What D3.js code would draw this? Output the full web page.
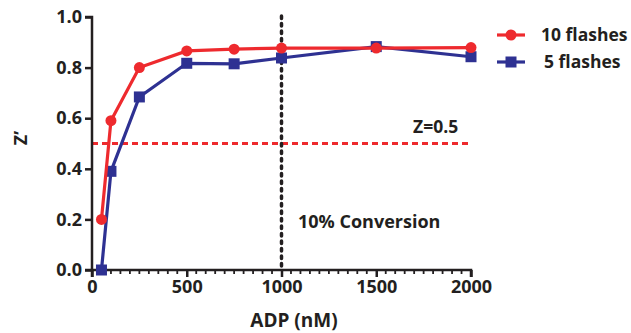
<!DOCTYPE html>
<html>
<head>
<meta charset="utf-8">
<script src="https://cdn.jsdelivr.net/npm/d3@7"></script>
<style>
  body { margin: 0; background: #fff; }
  text { font-family: "Open Sans", sans-serif; font-weight: 700; fill: #231f20; }
</style>
</head>
<body>
<svg id="chart"></svg>
<script>
// data
var adp = [50, 100, 250, 500, 750, 1000, 1500, 2000];
var flashes10 = [0.20, 0.59, 0.80, 0.866, 0.873, 0.877, 0.877, 0.879];
var flashes5 = [0.0, 0.39, 0.684, 0.817, 0.815, 0.838, 0.883, 0.843];
var xTicks = [0, 500, 1000, 1500, 2000];
var yTicks = [0, 0.2, 0.4, 0.6, 0.8, 1.0];
var seriesNames = ["10 flashes", "5 flashes"];

var red = "#ee2a2e";
var blue = "#2e3192";

var svgWidth = 631;
var svgHeight = 333;

var svg = d3.select("#chart")
    .attr("width", svgWidth)
    .attr("height", svgHeight);

var xScale = d3.scaleLinear().domain([0, 2000]).range([92, 471]);
var yScale = d3.scaleLinear().domain([0, 1]).range([270, 17]);

// reference lines
svg.append("line")
    .attr("x1", xScale(0)).attr("x2", xScale(2000))
    .attr("y1", yScale(0.5)).attr("y2", yScale(0.5))
    .style("stroke", red).style("stroke-width", 3)
    .style("stroke-dasharray", "6,4");

svg.append("line")
    .attr("x1", xScale(1000)).attr("x2", xScale(1000))
    .attr("y1", 16).attr("y2", yScale(0))
    .style("stroke", "#231f20").style("stroke-width", 3.5)
    .style("stroke-linecap", "round")
    .style("stroke-dasharray", "2.5,5");

// axes
var xAxis = svg.append("g")
    .attr("transform", "translate(0," + yScale(0) + ")")
    .call(d3.axisBottom(xScale).tickValues(xTicks).tickFormat(d3.format("d")).tickSize(7).tickPadding(3));

var minorX = d3.range(50, 2000, 50).filter(function (d) { return d % 500 != 0; });
xAxis.selectAll(".minor")
    .data(minorX)
    .enter()
    .append("line")
    .attr("class", "minor")
    .attr("x1", function (d) { return xScale(d); })
    .attr("x2", function (d) { return xScale(d); })
    .attr("y1", 0).attr("y2", 4)
    .style("stroke", "#231f20").style("stroke-width", 1.8);

var yAxis = svg.append("g")
    .attr("transform", "translate(" + xScale(0) + ",0)")
    .call(d3.axisLeft(yScale).tickValues(yTicks).tickFormat(d3.format(".1f")).tickSize(7).tickPadding(3));

svg.selectAll(".domain").style("stroke", "#231f20").style("stroke-width", 2.5);
svg.selectAll(".tick line").style("stroke", "#231f20").style("stroke-width", 2.5);
svg.selectAll(".tick text")
    .style("font-size", "18px")
    .style("font-family", "'Open Sans', sans-serif")
    .style("font-weight", 700)
    .style("fill", "#231f20");
yAxis.select(".domain").attr("d", "M-7," + yScale(1) + "H0V" + yScale(0) + "H-7");
xAxis.select(".domain").attr("d", "M" + xScale(0) + ",7V0H" + xScale(2000) + "V7");

// lines
var line = d3.line()
    .x(function (d) { return xScale(d[0]); })
    .y(function (d) { return yScale(d[1]); });

var pts5 = adp.map(function (d, i) { return [d, flashes5[i]]; });
var pts10 = adp.map(function (d, i) { return [d, flashes10[i]]; });

svg.append("path").datum(pts5)
    .attr("d", line)
    .style("fill", "none").style("stroke", blue).style("stroke-width", 3.2);

svg.selectAll(".sq")
    .data(pts5)
    .enter()
    .append("rect")
    .attr("class", "sq")
    .attr("x", function (d) { return xScale(d[0]) - 5.5; })
    .attr("y", function (d) { return yScale(d[1]) - 5.5; })
    .attr("width", 11).attr("height", 11)
    .style("fill", blue);

svg.append("path").datum(pts10)
    .attr("d", line)
    .style("fill", "none").style("stroke", red).style("stroke-width", 3.2);

svg.selectAll(".dot")
    .data(pts10)
    .enter()
    .append("circle")
    .attr("class", "dot")
    .attr("cx", function (d) { return xScale(d[0]); })
    .attr("cy", function (d) { return yScale(d[1]); })
    .attr("r", 5.5)
    .style("fill", red);

// annotations
svg.append("text")
    .attr("x", 413).attr("y", 133)
    .style("font-size", "17.5px")
    .text("Z=0.5");

svg.append("text")
    .attr("x", 298).attr("y", 228)
    .style("font-size", "18px")
    .text("10% Conversion");

// axis titles
svg.append("text")
    .attr("x", 294).attr("y", 327)
    .attr("text-anchor", "middle")
    .style("font-size", "19px")
    .text("ADP (nM)");

svg.append("text")
    .attr("transform", "translate(27,138) rotate(-90)")
    .attr("text-anchor", "middle")
    .style("font-size", "18px")
    .text("Z\u2019");

// legend
var legend = svg.append("g");
[red, blue].forEach(function (c, i) {
    var ly = 35 + i * 27;
    legend.append("line")
        .attr("x1", 497).attr("x2", 525)
        .attr("y1", ly).attr("y2", ly)
        .style("stroke", c).style("stroke-width", 3.2);
    if (i == 0) {
        legend.append("circle").attr("cx", 511).attr("cy", ly).attr("r", 5.5).style("fill", c);
    } else {
        legend.append("rect").attr("x", 505.5).attr("y", ly - 5.5).attr("width", 11).attr("height", 11).style("fill", c);
    }
    legend.append("text")
        .attr("x", i == 0 ? 541 : 544).attr("y", ly + 6)
        .style("font-size", "17.5px")
        .text(seriesNames[i]);
});
</script>
</body>
</html>
